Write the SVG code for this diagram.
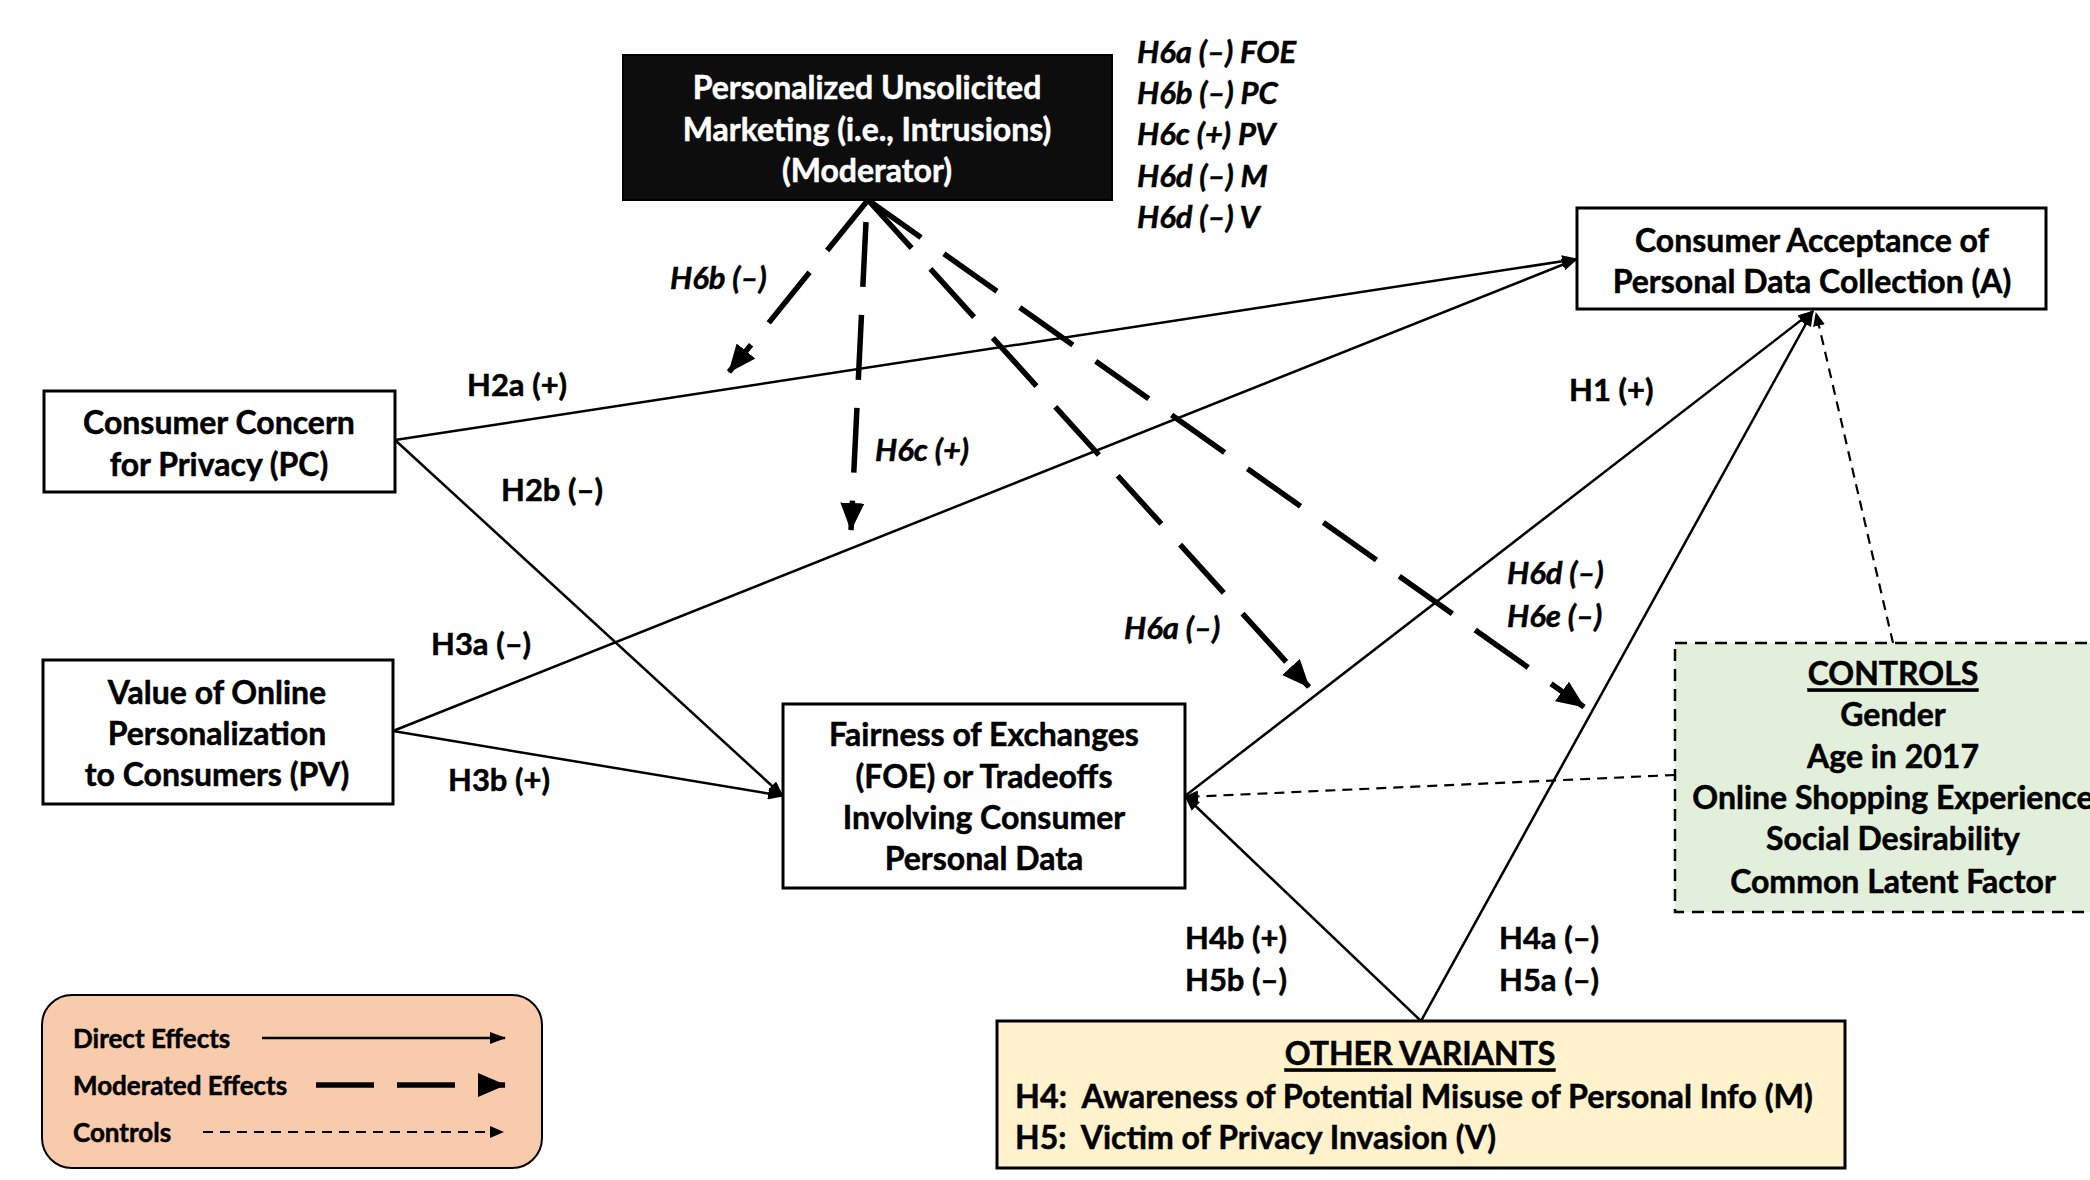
<svg xmlns="http://www.w3.org/2000/svg" width="2090" height="1180" viewBox="0 0 2090 1180">
<defs>
<style>
.box{fill:#fff;stroke:#000;stroke-width:3}
.t{font-family:Lato,'Open Sans','Liberation Sans',sans-serif;font-weight:bold;font-size:32px;fill:#000;stroke:#000;stroke-width:0.5;text-anchor:middle;dominant-baseline:central}
.w{fill:#fff;stroke:#fff}
.it{font-style:italic}
.lab{font-family:Lato,'Open Sans','Liberation Sans',sans-serif;font-weight:bold;font-size:31px;fill:#000;stroke:#000;stroke-width:0.5;dominant-baseline:central}
.solid{fill:none;stroke:#000;stroke-width:2.5}
.mod{fill:none;stroke:#000;stroke-width:5.5;stroke-dasharray:65 28}
.ctl{fill:none;stroke:#000;stroke-width:2.2;stroke-dasharray:10 7}
</style>
<marker id="arr" viewBox="0 0 16 12" refX="15" refY="6" markerWidth="16" markerHeight="12" markerUnits="userSpaceOnUse" orient="auto"><path d="M0,0 L16,6 L0,12 z" fill="#000"/></marker>
<marker id="arrBig" viewBox="0 0 28 24" refX="27" refY="12" markerWidth="28" markerHeight="24" markerUnits="userSpaceOnUse" orient="auto"><path d="M0,0 L28,12 L0,24 z" fill="#000"/></marker>
<marker id="arrSm" viewBox="0 0 14 12" refX="13" refY="6" markerWidth="14" markerHeight="12" markerUnits="userSpaceOnUse" orient="auto"><path d="M0,0 L14,6 L0,12 z" fill="#000"/></marker>
</defs>
<rect width="2090" height="1180" fill="#fff"/>

<g id="connectors">
<path class="solid" d="M395,440 L1577,259" marker-end="url(#arr)"/>
<path class="solid" d="M395,440 L783,796" marker-end="url(#arr)"/>
<path class="solid" d="M393,731 L1577,259" marker-end="url(#arr)"/>
<path class="solid" d="M393,731 L783,796" marker-end="url(#arr)"/>
<path class="solid" d="M1185,796 L1813,311" marker-end="url(#arr)"/>
<path class="solid" d="M1421,1021 L1813,311" marker-end="url(#arr)"/>
<path class="solid" d="M1421,1021 L1185,796" marker-end="url(#arr)"/>
<path class="ctl" d="M1893,643 L1816,313" marker-end="url(#arrSm)"/>
<path class="ctl" d="M1675,775 L1185,797" marker-end="url(#arrSm)"/>
<path class="mod" d="M868,200 L729,372" marker-end="url(#arrBig)"/>
<path class="mod" d="M866,222 L851,530" marker-end="url(#arrBig)"/>
<path class="mod" d="M868,200 L1309,687" marker-end="url(#arrBig)"/>
<path class="mod" d="M868,200 L1584,707" marker-end="url(#arrBig)"/>
</g>

<g id="labels">
<text class="lab" x="467" y="384">H2a (+)</text>
<text class="lab" x="501" y="489">H2b (–)</text>
<text class="lab" x="431" y="643">H3a (–)</text>
<text class="lab" x="448" y="779">H3b (+)</text>
<text class="lab" x="1569" y="389">H1 (+)</text>
<text class="lab" x="1185" y="937">H4b (+)</text>
<text class="lab" x="1185" y="979">H5b (–)</text>
<text class="lab" x="1499" y="937">H4a (–)</text>
<text class="lab" x="1499" y="979">H5a (–)</text>
<text class="lab it" x="670" y="277">H6b (–)</text>
<text class="lab it" x="875" y="449">H6c (+)</text>
<text class="lab it" x="1124" y="627">H6a (–)</text>
<text class="lab it" x="1507" y="572">H6d (–)</text>
<text class="lab it" x="1507" y="615">H6e (–)</text>
<text class="lab it" x="1137" y="51">H6a (–) FOE</text>
<text class="lab it" x="1137" y="92">H6b (–) PC</text>
<text class="lab it" x="1137" y="133">H6c (+) PV</text>
<text class="lab it" x="1137" y="175">H6d (–) M</text>
<text class="lab it" x="1137" y="216">H6d (–) V</text>
</g>

<g id="moderator">
<rect x="623" y="55" width="489" height="145" fill="#0d0d0d" stroke="#000" stroke-width="2"/>
<text class="t w" x="867" y="86">Personalized Unsolicited</text>
<text class="t w" x="867" y="128">Marketing (i.e., Intrusions)</text>
<text class="t w" x="867" y="169">(Moderator)</text>
</g>

<g id="acceptance">
<rect class="box" x="1577" y="208" width="469" height="101"/>
<text class="t" x="1812" y="239">Consumer Acceptance of</text>
<text class="t" x="1812" y="280">Personal Data Collection (A)</text>
</g>

<g id="privacy-concern">
<rect class="box" x="44" y="391" width="351" height="101"/>
<text class="t" x="219" y="421">Consumer Concern</text>
<text class="t" x="219" y="463">for Privacy (PC)</text>
</g>

<g id="personalization-value">
<rect class="box" x="43" y="660" width="350" height="144"/>
<text class="t" x="217" y="691">Value of Online</text>
<text class="t" x="217" y="732">Personalization</text>
<text class="t" x="217" y="773">to Consumers (PV)</text>
</g>

<g id="fairness">
<rect class="box" x="783" y="704" width="402" height="184"/>
<text class="t" x="984" y="733">Fairness of Exchanges</text>
<text class="t" x="984" y="775">(FOE) or Tradeoffs</text>
<text class="t" x="984" y="816">Involving Consumer</text>
<text class="t" x="984" y="857">Personal Data</text>
</g>

<g id="controls">
<rect x="1675" y="643" width="430" height="269" fill="#e2efda" stroke="#000" stroke-width="2.5" stroke-dasharray="12 8"/>
<text class="t" x="1893" y="672" text-decoration="underline">CONTROLS</text>
<text class="t" x="1893" y="713">Gender</text>
<text class="t" x="1893" y="755">Age in 2017</text>
<text class="t" x="1893" y="796">Online Shopping Experience</text>
<text class="t" x="1893" y="837">Social Desirability</text>
<text class="t" x="1893" y="880">Common Latent Factor</text>
</g>

<g id="other-variants">
<rect x="997" y="1021" width="848" height="147" fill="#fff2cc" stroke="#000" stroke-width="3"/>
<text class="t" x="1420" y="1052" text-decoration="underline">OTHER VARIANTS</text>
<text class="lab" x="1015" y="1095" xml:space="preserve" style="font-size:33px" textLength="798" lengthAdjust="spacingAndGlyphs">H4:  Awareness of Potential Misuse of Personal Info (M)</text>
<text class="lab" x="1015" y="1136" xml:space="preserve" style="font-size:33px" textLength="481" lengthAdjust="spacingAndGlyphs">H5:  Victim of Privacy Invasion (V)</text>
</g>

<g id="legend">
<rect x="42" y="995" width="500" height="173" rx="30" ry="30" fill="#f8cbad" stroke="#000" stroke-width="2"/>
<text class="lab" x="73" y="1038" style="font-size:26px">Direct Effects</text>
<text class="lab" x="73" y="1085" style="font-size:26px">Moderated Effects</text>
<text class="lab" x="73" y="1132" style="font-size:26px">Controls</text>
<path class="solid" d="M262,1038 L505,1038" marker-end="url(#arr)"/>
<path d="M316,1085 L505,1085" fill="none" stroke="#000" stroke-width="5.5" stroke-dasharray="58 23" marker-end="url(#arrBig)"/>
<path class="ctl" d="M203,1132 L503,1132" marker-end="url(#arrSm)"/>
</g>
</svg>
